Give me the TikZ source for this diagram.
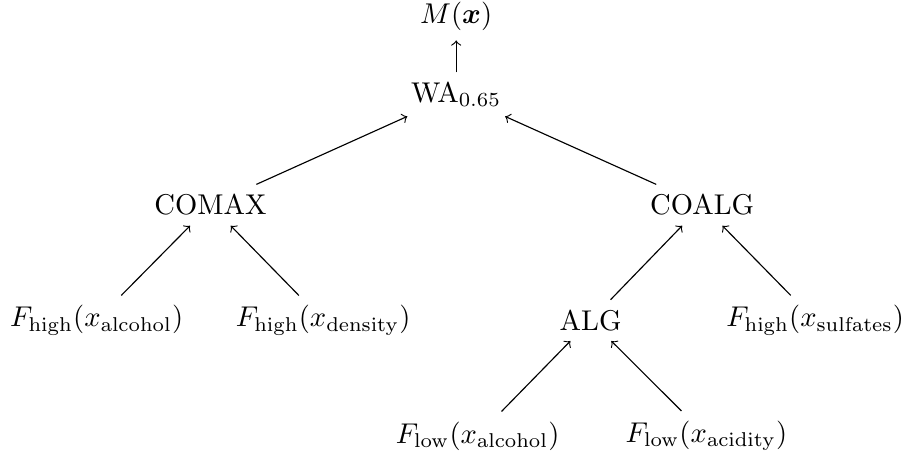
\documentclass[tikz,border=0pt]{standalone}
\usepackage{amsmath}
\usepackage{bm}

\begin{document}
\begin{tikzpicture}[toparent/.style={->}]
    \useasboundingbox (0,0) rectangle (11.122,-5.593);

    \node (mx) at (5.606,-0.197) {$M(\bm{x})$};
    \node (wa) at (5.606,-1.160) {$\mathrm{WA}_{0.65}$};

    \node (comax) at (2.587,-2.520) {COMAX};
    \node (coalg) at (8.629,-2.520) {COALG};

    \node (falc) at (1.188,-3.937) {$F_{\mathrm{high}}(x_{\mathrm{alcohol}})$};
    \node (fdens) at (3.972,-3.937) {$F_{\mathrm{high}}(x_{\mathrm{density}})$};
    \node (alg) at (7.258,-3.937) {ALG};
    \node (fsulf) at (10.018,-3.937) {$F_{\mathrm{high}}(x_{\mathrm{sulfates}})$};

    \node (flalc) at (5.870,-5.357) {$F_{\mathrm{low}}(x_{\mathrm{alcohol}})$};
    \node (flacid) at (8.682,-5.357) {$F_{\mathrm{low}}(x_{\mathrm{acidity}})$};

    \foreach \c/\p in {wa/mx, comax/wa, coalg/wa, falc/comax, fdens/comax,
                       alg/coalg, fsulf/coalg, flalc/alg, flacid/alg} {
        \draw[toparent] (\c) -- (\p);
    }
\end{tikzpicture}
\end{document}
